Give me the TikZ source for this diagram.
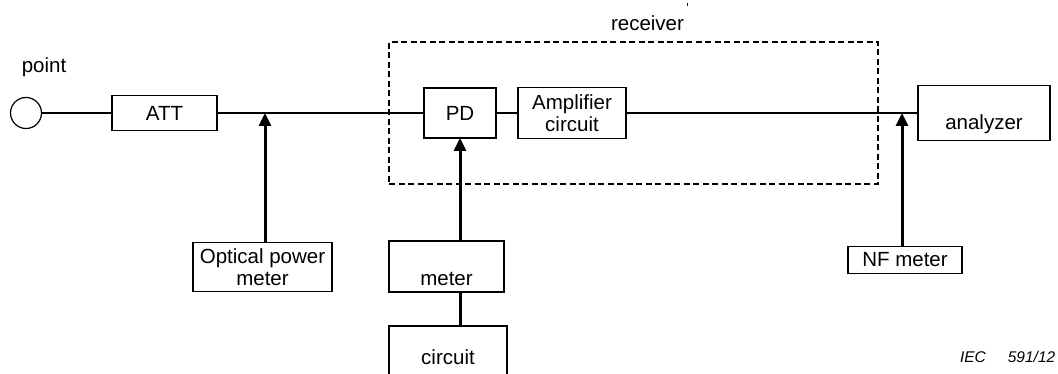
\documentclass[tikz,border=0pt]{standalone}
\usepackage{fontspec}
\setmainfont{Liberation Sans}
\usetikzlibrary{arrows.meta, positioning}

\begin{document}
\begin{tikzpicture}[
    x=1pt, y=1pt,
    font=\fontsize{20.5}{22}\selectfont,
    box/.style     = {rectangle, draw=black, line width=1.2pt, inner sep=0pt,
                      outer sep=0pt, align=center},
    port/.style    = {circle, draw=black, line width=1.2pt, minimum size=31pt,
                      inner sep=0pt, outer sep=0pt},
    rcvbox/.style  = {rectangle, draw=black, line width=2.2pt,
                      dash pattern=on 6pt off 3.5pt, inner sep=0pt, outer sep=0pt},
    txt/.style     = {inner sep=0pt, outer sep=0pt},
    sigline/.style = {line width=1.2pt},
    arrow/.style   = {-{Triangle[length=13pt, width=12pt]}, line width=3pt},
    link/.style    = {line width=3pt}
]
\useasboundingbox (0,0) rectangle (1058,374);

%% -- Signal path --------------------------------------------
\node[port] (src) at (26,261) {};
\node[txt, above=21pt of src, xshift=18pt] (srclbl) {point};
\node[box, minimum width=105pt, minimum height=35pt, right=70.5pt of src] (att) {ATT};
\node[box, minimum width=72pt, minimum height=50pt, right=207pt of att]   (pd)  {PD};
\node[box, minimum width=108pt, minimum height=51pt, right=22pt of pd]    (amp) {Amplifier\\circuit};
\node[box, minimum width=132pt, minimum height=55pt, right=292pt of amp]  (ana) {\strut\\analyzer};

%% -- Receiver frame -----------------------------------------
\node[rcvbox, minimum width=489pt, minimum height=142pt] (rcv) at (633.5,261) {};
\node[txt, above=11pt of rcv, xshift=14pt] (rcvlbl) {receiver};
\draw[line width=0.8pt] ([xshift=3pt,yshift=10pt]rcvlbl.north east) -- ++(0,3);

%% -- Meters and circuits ------------------------------------
\node[box, minimum width=139pt, minimum height=49pt, below=112pt of att, xshift=98pt]  (opm)  {Optical power\\meter};
\node[box, minimum width=115pt, minimum height=51pt, below=103pt of pd, xshift=-13.5pt] (pdm)  {\strut\\meter};
\node[box, minimum width=118pt, minimum height=63pt, below=34pt of pdm, xshift=1.5pt]   (bias) {circuit};
\node[box, minimum width=114pt, minimum height=27pt, below=106pt of ana, xshift=-79pt]  (nfm)  {NF meter};

\node[txt, anchor=base west, font=\fontsize{15.5}{17}\selectfont\itshape] (iec) at (960,11) {IEC\hspace{22pt}591/12};

%% -- Connectors ---------------------------------------------
\draw[sigline] (src) -- (att);
\draw[sigline] (att) -- (pd);
\draw[sigline] (pd)  -- (amp);
\draw[sigline] (amp) -- (ana);

\draw[arrow] ([xshift=2.5pt]opm.north) -- ([xshift=2.5pt]opm.north |- att.east);
\draw[arrow] (pd.south |- pdm.north) -- (pd.south);
\draw[link]  (pd.south |- pdm.south) -- (pd.south |- bias.north);
\draw[arrow] ([xshift=-3pt]nfm.north) -- ([xshift=-3pt]nfm.north |- ana.west);

\end{tikzpicture}
\end{document}
